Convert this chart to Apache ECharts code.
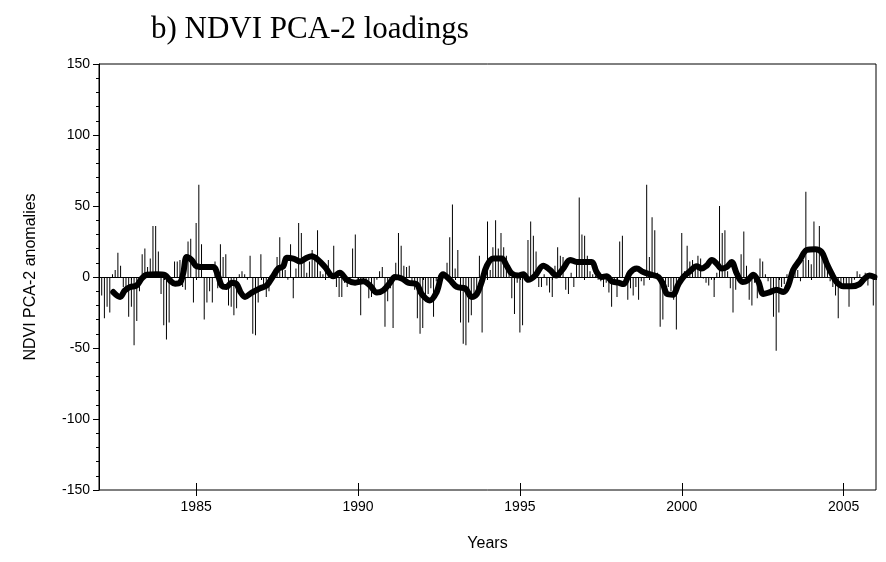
<!DOCTYPE html>
<html>
<head>
<meta charset="utf-8">
<script src="https://cdn.jsdelivr.net/npm/echarts@6/dist/echarts.min.js"></script>
<style>
html,body{margin:0;padding:0;background:#fff;}
#chart{width:886px;height:562px;}
</style>
</head>
<body>
<div id="chart"></div>
<script>
// ---- data ----
const titleText = 'b) NDVI PCA-2 loadings';
const xName = 'Years';
const yName = 'NDVI PCA-2 anomalies';
const startYear = 1982;
const yearTicks = [1985, 1990, 1995, 2000, 2005];
// monthly anomalies, Jan 1982 onward
const monthlyAnomalies = [
 -13,-29,-21,-25,2,5,17,8,-7,-9,-28,-21,
 -48,-31,-10,16,20,7,13,36,36,18,-12,-34,
 -44,-32,-3,11,11,12,-7,-9,25,27,-18,38,
 65,23,-30,-18,-10,-18,11,-8,23,14,16,-20,
 -21,-27,-22,2,4,2,-2,15,-40,-41,-18,16,
 -8,-14,-10,2,5,14,28,11,5,-2,23,-15,
 6,38,31,11,3,11,19,12,33,4,2,4,
 12,3,22,-7,-14,-14,-4,-7,-2,20,30,-3,
 -27,-5,-5,-15,-14,-7,-2,4,7,-35,-17,-8,
 -36,10,31,22,8,7,8,-3,-9,-29,-40,-36,
 -15,-12,-8,-28,-3,1,3,2,10,28,51,6,
 19,-32,-47,-48,-32,-27,-14,-9,15,-39,3,39,
 5,21,40,20,31,21,15,3,-15,-26,-4,-39,
 -34,-2,26,39,29,18,-7,-7,2,-6,-11,-14,
 8,21,15,14,-9,-12,3,-7,9,56,30,29,
 15,4,2,1,-2,-3,-7,-4,-11,-21,-5,-14,
 25,29,-3,-16,-8,-13,-7,-16,-3,-6,65,14,
 42,33,3,-35,-30,-10,-7,-10,-16,-37,-5,31,
 4,22,11,12,9,15,13,-1,-4,-6,-2,-14,
 3,50,31,33,4,-8,-25,-9,3,16,32,8,
 -16,-20,-4,-15,13,11,2,-3,-12,-28,-52,-25,
 -7,-5,2,-2,3,6,5,-3,12,60,12,9,
 39,19,36,19,10,7,-3,-7,-13,-29,-7,-8,
 -6,-21,-5,-2,4,2,-4,3,-6,2,-20
];
// smoothed curve (decimal year, value)
const smoothYears = [
 1982.44,1982.65,1982.80,1982.96,1983.16,1983.32,1983.47,1983.78,1984.04,1984.19,
 1984.35,1984.50,1984.60,1984.71,1984.86,1985.02,1985.27,1985.53,1985.69,1985.79,
 1985.94,1986.10,1986.25,1986.37,1986.51,1986.72,1986.97,1987.18,1987.36,1987.54,
 1987.69,1987.80,1988.00,1988.21,1988.42,1988.57,1988.77,1988.98,1989.24,1989.44,
 1989.65,1989.91,1990.16,1990.37,1990.58,1990.78,1990.99,1991.14,1991.35,1991.55,
 1991.81,1991.97,1992.22,1992.43,1992.63,1992.84,1993.05,1993.31,1993.51,1993.67,
 1993.82,1993.98,1994.18,1994.44,1994.59,1994.75,1994.95,1995.11,1995.26,1995.47,
 1995.72,1995.93,1996.12,1996.34,1996.55,1996.76,1996.96,1997.22,1997.37,1997.53,
 1997.68,1997.84,1998.04,1998.20,1998.40,1998.61,1998.81,1999.07,1999.28,1999.42,
 1999.55,1999.72,1999.90,2000.05,2000.25,2000.46,2000.62,2000.77,2000.93,2001.08,
 2001.23,2001.39,2001.54,2001.70,2001.88,2002.03,2002.21,2002.37,2002.52,2002.73,
 2002.93,2003.14,2003.29,2003.44,2003.65,2003.86,2004.12,2004.32,2004.48,2004.63,
 2004.78,2004.99,2005.25,2005.49,2005.65,2005.80,2005.95
];
const smoothValues = [
 -10.6,-14,-9.4,-7,-6,-1,1.6,2,1.4,-2.4,
 -4.7,-4,2.4,14,12,7.5,7,7,0,-6,
 -7,-4,-5,-10.6,-14,-11,-8,-6,0,6,
 7.5,13.6,13,11,13.6,14.6,12,7,0.5,3,
 -2,-4,-3,-6,-11,-9.4,-4,0,-1,-4,
 -5,-12,-16.5,-10.6,2,-2,-7,-8,-14,-12,
 -3.5,8,13,13,8,2.4,1,2,-2,1,
 8,5,1,6,12,10.6,10.6,10.6,3.5,0,
 0.5,-3,-4,-5,3,6,3.5,1.6,0,-5,
 -12,-12.5,-5,0,4,7.5,6,8,12,9.4,
 6,7,10.6,2.4,-3.5,-2.4,1.6,-3.5,-12,-10.6,
 -9,-10.6,-6,5,12,19,19.5,17.6,9.4,2.4,
 -3.5,-6.6,-6.6,-5,-1,1,0
];
// ---- build ----
const barData = monthlyAnomalies.map((v, i) => [startYear + (i + 1) / 12, v]);
const lineData = smoothYears.map((x, i) => [x, smoothValues[i]]);

const chart = echarts.init(document.getElementById('chart'), null, {renderer: 'canvas'});
const black = '#000';
const sans = 'Liberation Sans, Arial, sans-serif';
const xBase = {
  type: 'value', min: 1982, max: 2006, gridIndex: 0, position: 'bottom',
  splitLine: {show: false}
};
chart.setOption({
  animation: false,
  backgroundColor: '#fff',
  title: {
    text: titleText, left: 146, top: 9,
    textStyle: {fontFamily: 'Liberation Serif, Times New Roman, serif', fontSize: 31, fontWeight: 'normal', color: black}
  },
  grid: {left: 99, right: 10, top: 64, bottom: 72, show: true, borderColor: black, borderWidth: 1, backgroundColor: 'transparent'},
  xAxis: [
    Object.assign({}, xBase, {
      interval: 1,
      axisLine: {show: true, lineStyle: {color: black, width: 1}},
      axisTick: {show: true, inside: false, length: 3, lineStyle: {color: black}},
      axisLabel: {show: true, customValues: yearTicks, formatter: v => String(v), color: black, fontFamily: sans, fontSize: 14, margin: 10},
      name: xName, nameLocation: 'middle', nameGap: 46,
      nameTextStyle: {color: black, fontFamily: sans, fontSize: 16}
    }),
    Object.assign({}, xBase, {
      axisLine: {show: false},
      axisTick: {show: true, inside: false, length: 6, customValues: yearTicks, lineStyle: {color: black}},
      axisLabel: {show: false}
    }),
    Object.assign({}, xBase, {
      axisLine: {show: false},
      axisTick: {show: true, inside: true, length: 7, customValues: yearTicks, lineStyle: {color: black}},
      axisLabel: {show: false}
    })
  ],
  yAxis: [{
    type: 'value', min: -150, max: 150, interval: 50,
    axisLine: {show: true, lineStyle: {color: black, width: 1}},
    axisTick: {show: true, inside: false, length: 6, lineStyle: {color: black}},
    minorTick: {show: true, splitNumber: 5, length: 3, lineStyle: {color: black}},
    axisLabel: {color: black, fontFamily: sans, fontSize: 14, margin: 9},
    splitLine: {show: false},
    name: yName, nameLocation: 'middle', nameGap: 60, nameRotate: 90,
    nameTextStyle: {color: black, fontFamily: sans, fontSize: 16}
  }],
  series: [
    {
      type: 'bar', xAxisIndex: 0, yAxisIndex: 0, data: barData,
      barWidth: 1, itemStyle: {color: black},
      markLine: {
        silent: true, symbol: ['none', 'none'], label: {show: false},
        lineStyle: {color: black, width: 1, type: 'solid'},
        data: [{yAxis: 0}]
      }
    },
    {
      type: 'line', xAxisIndex: 0, yAxisIndex: 0, data: lineData,
      smooth: 0.35, showSymbol: false, symbol: 'none',
      lineStyle: {color: black, width: 6, cap: 'round', join: 'round'}
    }
  ]
});
</script>
</body>
</html>
